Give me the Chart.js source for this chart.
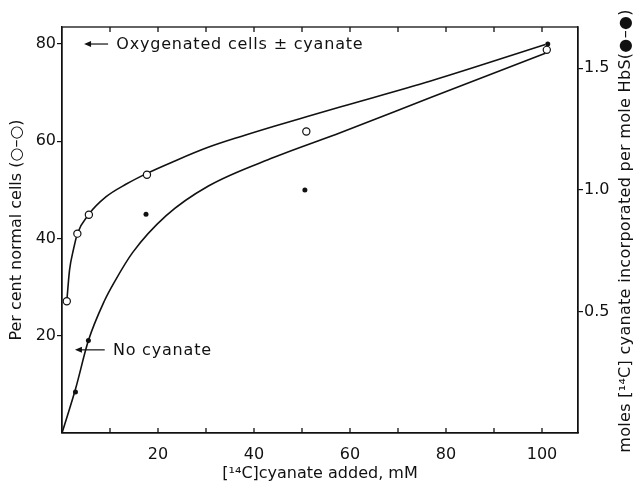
<!DOCTYPE html>
<html><head><meta charset="utf-8">
<script src="https://cdn.jsdelivr.net/npm/chart.js@4/dist/chart.umd.min.js"></script>
<style>html,body{margin:0;padding:0;background:#fff}#wrap{width:634px;height:485px}</style>
</head><body><div id="wrap"><canvas id="c" width="634" height="485"></canvas></div>
<script>
// Data
const openX = [1.0, 3.2, 5.6, 17.7, 50.9, 101];
const openY = [27.1, 41.0, 44.9, 53.1, 62.0, 78.8];           // per cent normal cells
const filledX = [2.8, 5.5, 17.5, 50.6, 101.2];
const filledY = [0.169, 0.38, 0.90, 1.00, 1.60];                // moles cyanate per mole HbS
const upperCurveX = [1.0, 1.57, 2.4, 3.2, 5.6, 9.2, 13.4, 17.7, 23.4, 30.3, 37.3, 44.2, 51.1, 58.1, 76.8, 100.7];
const upperCurveY = [27.1, 33.5, 37.8, 41.0, 45.0, 48.6, 51.2, 53.4, 55.9, 58.7, 61.0, 63.1, 65.1, 67.1, 72.4, 79.9];
const lowerCurveX = [0, 2.8, 5.5, 8.85, 11.0, 14.7, 21.7, 30.5, 44.2, 58.1, 76.8, 100.7];
const lowerCurveY = [0, 9.0, 19.0, 27.2, 31.2, 37.1, 44.7, 50.8, 56.7, 61.8, 69.0, 78.1];
const xTicks = [20, 40, 60, 80, 100];
const yTicks = [20, 40, 60, 80];
const y2Ticks = [0.5, 1.0, 1.5];
const minorXTicks = [10, 20, 30, 40, 50, 60, 70, 80, 90, 100];
const annotations = [
  {text: 'Oxygenated cells \u00b1 cyanate', from: 9.6, to: 4.6, y: 80, textX: 11.3},
  {text: 'No cyanate', from: 8.9, to: 2.7, y: 17.1, textX: 10.6}
];
const rightTitle = 'moles [\u00b9\u2074C] cyanate incorporated per mole HbS(\u25cf\u2013\u25cf)';

const FONT = "'DejaVu Sans', sans-serif";
const INK = '#111';
const pts = (xs, ys) => xs.map((x, i) => ({x, y: ys[i]}));

const decor = {
  id: 'decor',
  afterDraw(chart) {
    const {ctx, chartArea: a, scales} = chart;
    const xs = scales.x, ys = scales.y;
    ctx.save();
    ctx.strokeStyle = INK; ctx.fillStyle = INK; ctx.lineWidth = 1.3;
    ctx.strokeRect(a.left, a.top, a.right - a.left, a.bottom - a.top);
    ctx.beginPath();
    minorXTicks.forEach(v => {
      const px = xs.getPixelForValue(v);
      ctx.moveTo(px, a.bottom); ctx.lineTo(px, a.bottom - 5);
      ctx.moveTo(px, a.top); ctx.lineTo(px, a.top + 5);
    });
    ctx.stroke();
    ctx.font = '16px ' + FONT;
    ctx.textBaseline = 'middle'; ctx.textAlign = 'left';
    ctx.letterSpacing = '0.8px';
    annotations.forEach(an => {
      const y = ys.getPixelForValue(an.y);
      const x1 = xs.getPixelForValue(an.from), x0 = xs.getPixelForValue(an.to);
      ctx.lineWidth = 1.2;
      ctx.beginPath(); ctx.moveTo(x1, y); ctx.lineTo(x0 + 4, y); ctx.stroke();
      ctx.beginPath(); ctx.moveTo(x0, y); ctx.lineTo(x0 + 7, y - 3); ctx.lineTo(x0 + 7, y + 3); ctx.closePath(); ctx.fill();
      ctx.fillText(an.text, xs.getPixelForValue(an.textX), y + 1);
    });
    // right axis title, reading bottom-to-top as in the original
    ctx.letterSpacing = '0.3px';
    ctx.translate(626, (a.top + a.bottom) / 2 + 1);
    ctx.rotate(-Math.PI / 2);
    ctx.textAlign = 'center';
    ctx.fillText(rightTitle, 0, 0);
    ctx.restore();
  }
};

new Chart(document.getElementById('c'), {
  type: 'scatter',
  data: {
    datasets: [
      {type: 'line', data: pts(upperCurveX, upperCurveY), yAxisID: 'y', borderColor: INK, borderWidth: 1.6,
       pointRadius: 0, cubicInterpolationMode: 'monotone', fill: false, order: 3},
      {type: 'line', data: pts(lowerCurveX, lowerCurveY), yAxisID: 'y', borderColor: INK, borderWidth: 1.6,
       pointRadius: 0, cubicInterpolationMode: 'monotone', fill: false, order: 3},
      {data: pts(openX, openY), yAxisID: 'y', pointRadius: 3.6, pointBackgroundColor: '#fff',
       pointBorderColor: INK, pointBorderWidth: 1.2, order: 1},
      {data: pts(filledX, filledY), yAxisID: 'y2', pointRadius: 2.5, pointBackgroundColor: INK,
       pointBorderColor: INK, pointBorderWidth: 0, order: 1}
    ]
  },
  options: {
    responsive: false, animation: false, events: [],
    layout: {padding: {top: 27, left: 0, right: 0, bottom: 0}},
    plugins: {legend: {display: false}, tooltip: {enabled: false}},
    scales: {
      x: {
        type: 'linear', position: 'bottom', min: 0, max: 107.5,
        afterBuildTicks: s => { s.ticks = xTicks.map(v => ({value: v})); },
        afterFit: s => { s.height = 52; },
        grid: {display: false},
        border: {display: true, color: INK, width: 1.3},
        ticks: {color: INK, font: {family: FONT, size: 16}, padding: 4, maxRotation: 0},
        title: {display: true, text: '[\u00b9\u2074C]cyanate added, mM', color: INK,
                font: {family: FONT, size: 16, lineHeight: 1.2}, padding: {top: 0, bottom: 2}}
      },
      y: {
        type: 'linear', position: 'left', min: 0, max: 83.5,
        afterBuildTicks: s => { s.ticks = yTicks.map(v => ({value: v})); },
        afterFit: s => { s.width = 62; },
        grid: {display: true, drawOnChartArea: false, drawTicks: true, tickLength: 5, color: INK, lineWidth: 1.2},
        border: {display: true, color: INK, width: 1.3},
        ticks: {color: INK, font: {family: FONT, size: 16}, padding: 1},
        title: {display: true, text: 'Per cent normal cells (\u25cb\u2013\u25cb)', color: INK,
                font: {family: FONT, size: 16, lineHeight: 1.2}, padding: {top: 7, bottom: 0}}
      },
      y2: {
        type: 'linear', position: 'right', min: 0, max: 83.5 / 50,
        afterBuildTicks: s => { s.ticks = y2Ticks.map(v => ({value: v})); },
        afterFit: s => { s.width = 56; },
        grid: {display: true, drawOnChartArea: false, drawTicks: true, tickLength: 5, color: INK, lineWidth: 1.2},
        border: {display: true, color: INK, width: 1.3},
        ticks: {color: INK, font: {family: FONT, size: 16}, padding: 1, callback: v => v.toFixed(1)},
        title: {display: false}
      }
    }
  },
  plugins: [decor]
});
</script></body></html>
